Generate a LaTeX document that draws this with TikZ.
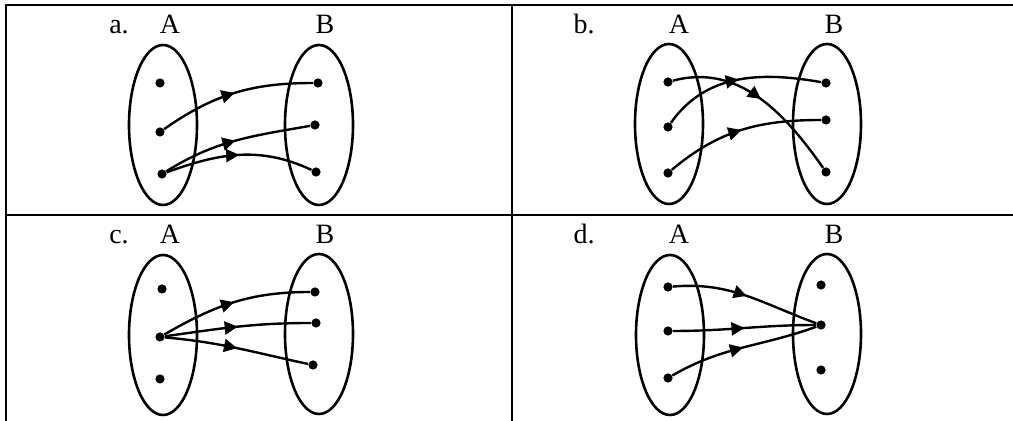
\documentclass[tikz,border=0pt]{standalone}
\usepackage{fontspec}
\setmainfont{Liberation Serif}
\usetikzlibrary{arrows.meta,shapes.geometric,decorations.markings}
\tikzset{
  setshape/.style={draw, ellipse, line width=1.3pt, minimum width=34pt, minimum height=80pt, inner sep=0pt},
  elem/.style={circle, fill, inner sep=0pt, minimum size=4.6pt},
  lbl/.style={font=\fontsize{14}{16}\selectfont, inner sep=0pt, anchor=base},
  map/.style={line width=1.2pt, postaction={decorate},
    decoration={markings, mark=at position 0.5 with {\arrow{Triangle[length=6.5pt,width=6.5pt]}}}},
  frameline/.style={line width=0.9pt}
}
\begin{document}
\begin{tikzpicture}[x=0.5pt,y=-0.5pt]
\useasboundingbox (0,0) rectangle (1013,421);
% table lines
\coordinate (fTL) at (6,5);
\coordinate (fTR) at (1013,5);
\coordinate (fBL) at (6,421);
\coordinate (mT) at (512,5);
\coordinate (mB) at (512,421);
\coordinate (hL) at (6,215);
\coordinate (hR) at (1013,215);
\draw[frameline] (fTR) -- (fTL) -- (fBL);
\draw[frameline] (mT) -- (mB);
\draw[frameline] (hL) -- (hR);
% a.
\node[lbl] (aL) at (119,34) {a.};
\node[lbl] (aA) at (170,34) {A};
\node[lbl] (aB) at (325,34) {B};
\node[setshape] (aSA) at (163,125) {};
\node[setshape] (aSB) at (319,125) {};
\node[elem] (aA1) at (160,83) {};
\node[elem] (aA2) at (160,132) {};
\node[elem] (aA3) at (162,174) {};
\node[elem] (aB1) at (318,83) {};
\node[elem] (aB2) at (315,125) {};
\node[elem] (aB3) at (316,172) {};
\draw[map] (aA2) to[out=35,in=180] (aB1);
\draw[map] (aA3) to[out=32,in=190] (aB2);
\draw[map] (aA3) to[out=20,in=155] (aB3);
% b.
\node[lbl] (bL) at (584,34) {b.};
\node[lbl] (bA) at (679,34) {A};
\node[lbl] (bB) at (834,34) {B};
\node[setshape] (bSA) at (669,124) {};
\node[setshape] (bSB) at (827,124) {};
\node[elem] (bA1) at (668,82) {};
\node[elem] (bA2) at (668,127) {};
\node[elem] (bA3) at (668,173) {};
\node[elem] (bB1) at (826,83) {};
\node[elem] (bB2) at (826,120) {};
\node[elem] (bB3) at (826,172) {};
\draw[map] (bA1) to[out=15,in=125] (bB3);
\draw[map] (bA2) to[out=55,in=170] (bB1);
\draw[map] (bA3) to[out=40,in=180] (bB2);
% c.
\node[lbl] (cL) at (119,244) {c.};
\node[lbl] (cA) at (170,244) {A};
\node[lbl] (cB) at (325,244) {B};
\node[setshape] (cSA) at (163,335) {};
\node[setshape] (cSB) at (319,334) {};
\node[elem] (cA1) at (162,289) {};
\node[elem] (cA2) at (160,337) {};
\node[elem] (cA3) at (160,379) {};
\node[elem] (cB1) at (315,292) {};
\node[elem] (cB2) at (316,323) {};
\node[elem] (cB3) at (313,365) {};
\draw[map] (cA2) to[out=30,in=180] (cB1);
\draw[map] (cA2) to[out=8,in=180] (cB2);
\draw[map] (cA2) to[out=-5,in=168] (cB3);
% d.
\node[lbl] (dL) at (584,244) {d.};
\node[lbl] (dA) at (679,244) {A};
\node[lbl] (dB) at (834,244) {B};
\node[setshape] (dSA) at (670,335) {};
\node[setshape] (dSB) at (827,334) {};
\node[elem] (dA1) at (668,287) {};
\node[elem] (dA2) at (668,331) {};
\node[elem] (dA3) at (668,378) {};
\node[elem] (dB1) at (821,285) {};
\node[elem] (dB2) at (821,325) {};
\node[elem] (dB3) at (821,370) {};
\draw[map] (dA1) to[out=5,in=160] (dB2);
\draw[map] (dA2) to[out=0,in=180] (dB2);
\draw[map] (dA3) to[out=30,in=200] (dB2);
\end{tikzpicture}
\end{document}
